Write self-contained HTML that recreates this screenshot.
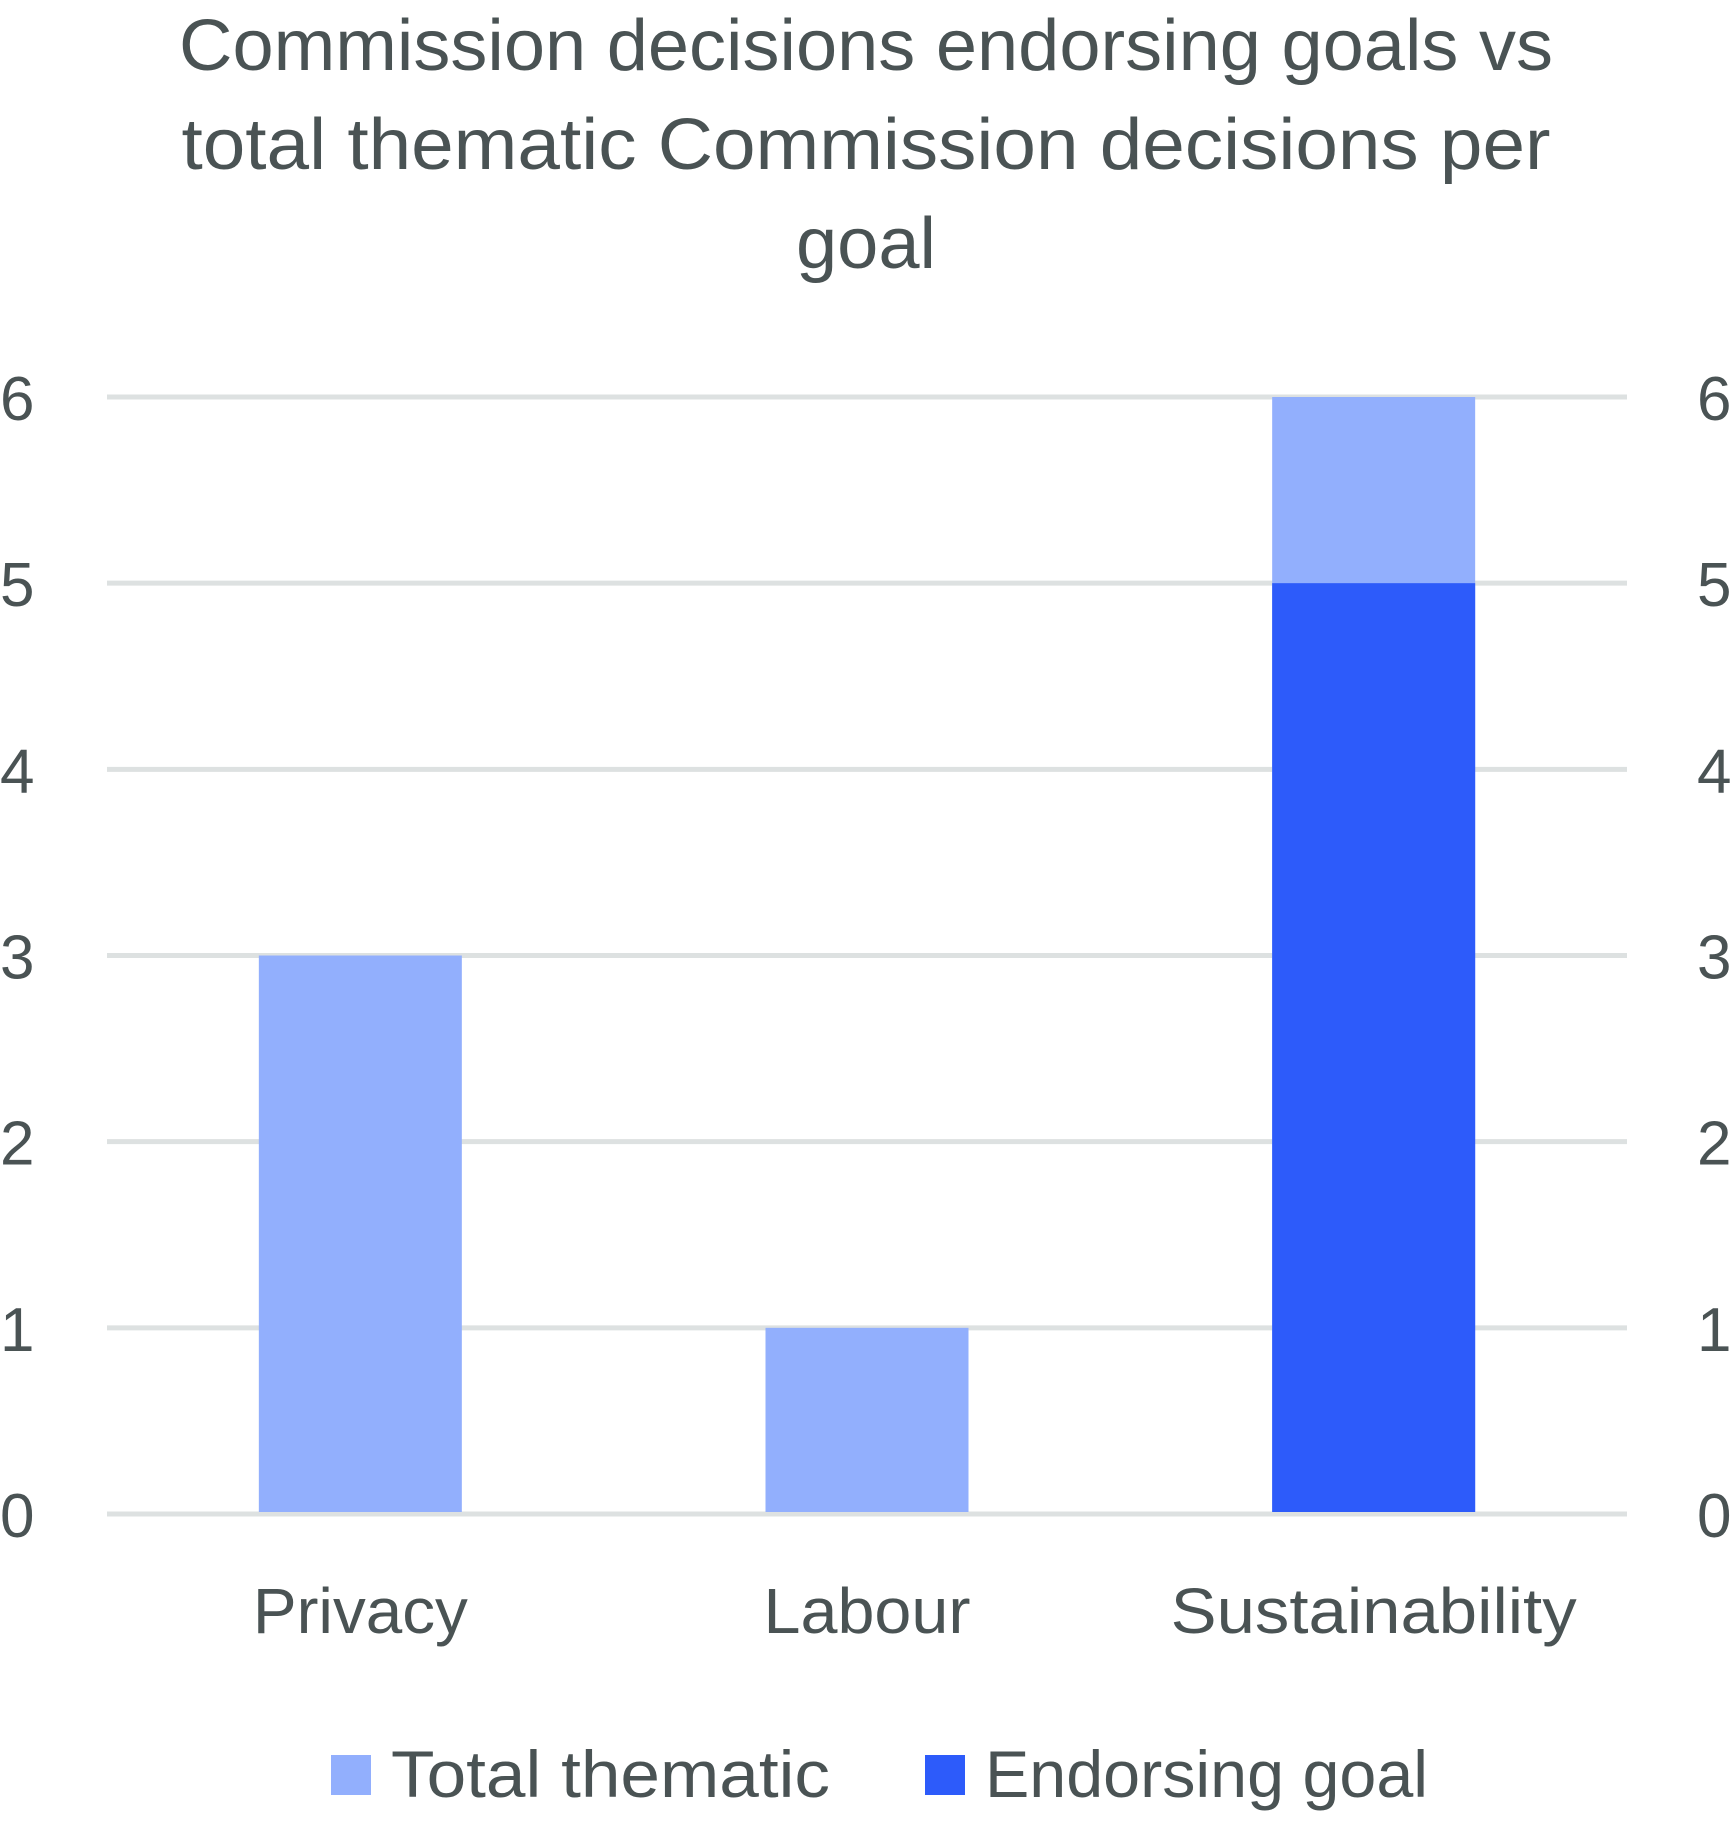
<!DOCTYPE html>
<html><head><meta charset="utf-8"><style>
html,body{margin:0;padding:0;background:#fff;}
svg{display:block;font-family:"Liberation Sans",sans-serif;}
</style></head><body>
<svg id="chart" width="1736" height="1826">
<g fill="#4a5354" font-size="72" text-anchor="middle">
<text x="866" y="70" textLength="1374" lengthAdjust="spacingAndGlyphs">Commission decisions endorsing goals vs</text>
<text x="866" y="169" textLength="1369" lengthAdjust="spacingAndGlyphs">total thematic Commission decisions per</text>
<text x="866" y="268" textLength="140" lengthAdjust="spacingAndGlyphs">goal</text>
</g>
<g id="grid"></g><g id="bars"></g><g id="axes"></g>
<g font-size="66" fill="#4a5354">
<rect x="331" y="1755" width="40" height="40" fill="#92affd"/>
<text x="391" y="1797" textLength="439" lengthAdjust="spacingAndGlyphs">Total thematic</text>
<rect x="925" y="1755" width="40" height="40" fill="#2d5bfa"/>
<text x="985" y="1797" textLength="443" lengthAdjust="spacingAndGlyphs">Endorsing goal</text>
</g>
</svg>
<script>
const categories=["Privacy","Labour","Sustainability"];
const totalThematic=[3,1,6];
const endorsingGoal=[0,0,5];
const ticks=[0,1,2,3,4,5,6];
const labelWidths=[215,207,406];
const NS="http://www.w3.org/2000/svg";
const x0=107,x1=1627,y0=1514,yTop=397,yMax=6;
function y(v){return y0-(y0-yTop)*v/yMax;}
const band=(x1-x0)/categories.length;
function xc(i){return x0+band*(i+0.5);}
const bw=203;
function mk(t,a,p){const e=document.createElementNS(NS,t);for(const k in a)e.setAttribute(k,a[k]);p.appendChild(e);return e;}
const grid=document.getElementById('grid'),bars=document.getElementById('bars'),axes=document.getElementById('axes');
ticks.forEach(t=>{
  const l=mk('line',{x1:x0,x2:x1,y1:y(t),y2:y(t),stroke:'#dde1e1','stroke-width':5},grid);
  
  
  const a=mk('text',{x:0,y:y(t)+23,'font-size':62,fill:'#4a5354'},axes);a.textContent=t;
  
  
  const b=mk('text',{x:1697,y:y(t)+23,'font-size':62,fill:'#4a5354'},axes);b.textContent=t;
  
  
});
categories.forEach((c,i)=>{
  const r=mk('rect',{x:xc(i)-bw/2,y:y(totalThematic[i]),width:bw,height:y(0)-y(totalThematic[i])-2,fill:'#92affd'},bars);
  
  
  if(endorsingGoal[i]>0){
    const d=mk('rect',{x:xc(i)-bw/2,y:y(endorsingGoal[i]),width:bw,height:y(0)-y(endorsingGoal[i])-2,fill:'#2d5bfa'},bars);
    
    
  }
  const t=mk('text',{x:xc(i),y:1633,'font-size':64,fill:'#4a5354','text-anchor':'middle',textLength:labelWidths[i],lengthAdjust:'spacingAndGlyphs'},axes);t.textContent=c;
  
  
});
</script>
</body></html>
